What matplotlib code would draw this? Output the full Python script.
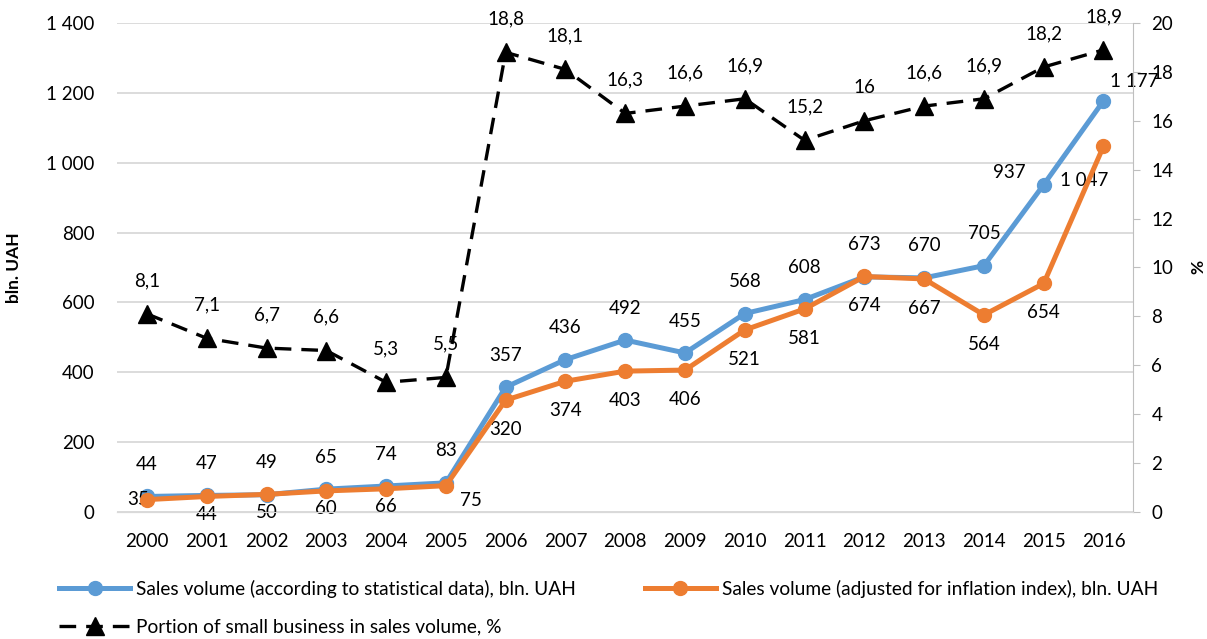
import matplotlib.pyplot as plt
from matplotlib.ticker import FuncFormatter

plt.rcParams['font.family'] = ['Lato', 'DejaVu Sans']

years = [str(y) for y in range(2000, 2017)]
sales_stat = [44, 47, 49, 65, 74, 83, 357, 436, 492, 455, 568, 608, 673, 670, 705, 937, 1177]
sales_infl = [35, 44, 50, 60, 66, 75, 320, 374, 403, 406, 521, 581, 674, 667, 564, 654, 1047]
small_share = [8.1, 7.1, 6.7, 6.6, 5.3, 5.5, 18.8, 18.1, 16.3, 16.6, 16.9, 15.2, 16, 16.6, 16.9, 18.2, 18.9]

blue = '#5B9BD5'
orange = '#ED7D31'
grid_c = '#D9D9D9'

def fmt_num(v):
    return f'{v:,}'.replace(',', ' ')

def fmt_pct(v):
    return f'{v:g}'.replace('.', ',')

fs = 13.5
fig = plt.figure(figsize=(12.07, 6.39), dpi=100)
ax = fig.add_axes([0.097, 0.199, 0.842, 0.765])
ax2 = ax.twinx()

x = list(range(len(years)))
l1, = ax.plot(x, sales_stat, color=blue, lw=3.6, marker='o', ms=10, zorder=3,
              label='Sales volume (according to statistical data), bln. UAH')
l2, = ax.plot(x, sales_infl, color=orange, lw=3.6, marker='o', ms=10, zorder=4,
              label='Sales volume (adjusted for inflation index), bln. UAH')
l3, = ax2.plot(x, small_share, color='black', lw=2.4, ls=(0, (5, 3)), marker='^', ms=13,
               label='Portion of small business in sales volume, %')

ax.set_xlim(-0.5, len(years) - 0.5)
ax.set_ylim(0, 1400)
ax.set_yticks(range(0, 1401, 200))
ax.yaxis.set_major_formatter(FuncFormatter(lambda v, p: fmt_num(int(v))))
ax2.set_ylim(0, 20)
ax2.set_yticks(range(0, 21, 2))
ax.set_xticks(x)
ax.set_xticklabels(years)

ax.grid(axis='y', color=grid_c, lw=1.3)
ax.set_axisbelow(True)
for a in (ax, ax2):
    for s in ('top', 'left'):
        a.spines[s].set_visible(False)
    a.spines['bottom'].set_color(grid_c)
ax.spines['right'].set_visible(False)
ax2.spines['right'].set_color('#BFBFBF')
ax.tick_params(axis='x', length=0, labelsize=fs, pad=15)
ax.tick_params(axis='y', length=0, labelsize=fs, pad=16)
ax2.tick_params(axis='y', length=5, color='#BFBFBF', labelsize=fs, pad=8)

ax.set_ylabel('bln. UAH', fontsize=12.5, fontweight='bold')
ax.yaxis.set_label_coords(-0.094, 0.5)
ax2.set_ylabel('%', fontsize=12.5, fontweight='bold', labelpad=12)

# data labels
blue_off = {15: (-25, 9), 16: (22, 14)}
for i, v in enumerate(sales_stat):
    dx, dy = blue_off.get(i, (0, 23))
    ax.annotate(fmt_num(v), (i, v), xytext=(dx, dy), textcoords='offset points',
                ha='center', va='center', fontsize=fs)
orange_off = {0: (-6, 0), 5: (18, -11), 16: (-14, -25)}
for i, v in enumerate(sales_infl):
    dx, dy = orange_off.get(i, (0, -13))
    if i not in orange_off and i >= 6:
        dy = -21
    ax.annotate(fmt_num(v), (i, v), xytext=(dx, dy), textcoords='offset points',
                ha='center', va='center', fontsize=fs)
for i, v in enumerate(small_share):
    ax2.annotate(fmt_pct(v), (i, v), xytext=(0, 24), textcoords='offset points',
                 ha='center', va='center', fontsize=fs)

fig.legend([l1, l3, l2], [l1.get_label(), l3.get_label(), l2.get_label()],
           ncol=2, loc='lower left', bbox_to_anchor=(0.035, -0.022), frameon=False,
           fontsize=13.8, handlelength=3.7, handletextpad=0.3, columnspacing=3.6,
           labelspacing=1.1)

fig.savefig('out.png', dpi=100)
